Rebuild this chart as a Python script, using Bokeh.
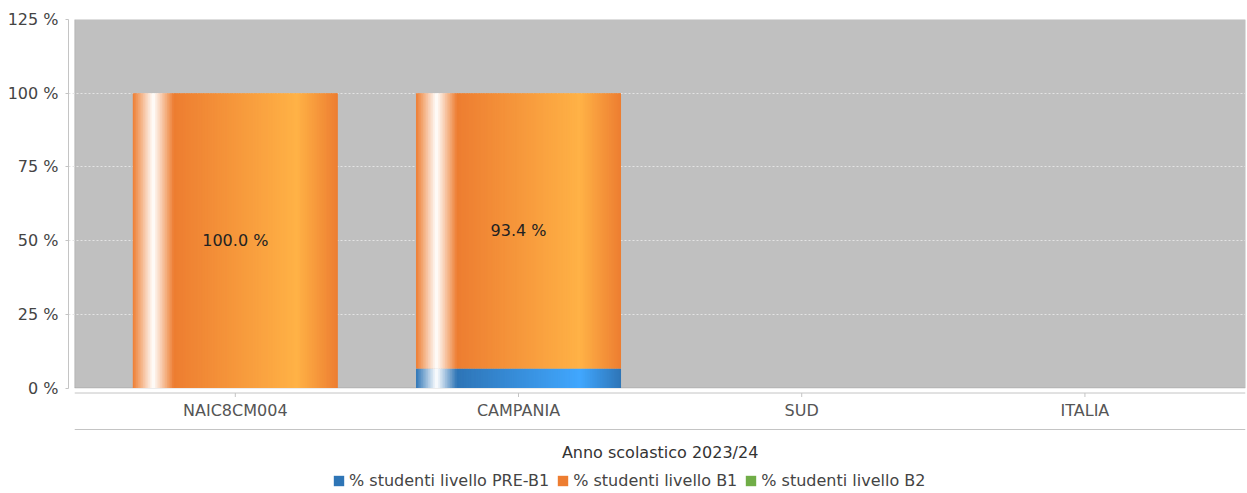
import numpy as np
from bokeh.plotting import figure
from bokeh.models import (Range1d, FixedTicker, BoxAnnotation, Legend,
                          LegendItem, ColumnDataSource)
from bokeh.core.properties import value
from bokeh.embed import file_html
from bokeh.resources import INLINE

# ---------------- data ----------------
categories = ["NAIC8CM004", "CAMPANIA", "SUD", "ITALIA"]
pre_b1 = [0.0, 6.6, None, None]
b1 = [100.0, 93.4, None, None]
b2 = [0.0, 0.0, None, None]
series_values = [pre_b1, b1, b2]
series_names = ["% studenti livello PRE-B1", "% studenti livello B1", "% studenti livello B2"]
series_colors = [(46, 117, 182), (237, 125, 49), (112, 173, 71)]
y_ticks = [0, 25, 50, 75, 100, 125]
y_tick_labels = ["0 %", "25 %", "50 %", "75 %", "100 %", "125 %"]
x_title = "Anno scolastico 2023/24"

# ---------------- layout / style ----------------
FONT = "DejaVu Sans"
AXIS_GREY = "#c4c4c4"
bar_width = 0.724
cat_pad = 0.567
axis_gap = 0.022
y_max = 125
n_strips = 120

frame_top_px = 19          # page px of the 125 % line
zero_px = 387.5            # page px of the 0 % line
frame_h = 474              # frame runs down to the bottom of the page
px_per_unit = (zero_px - frame_top_px) / y_max
y_min = -(frame_top_px + frame_h - zero_px) / px_per_unit


def y_at(offset_px):
    """data y that lies offset_px pixels below the 0 % line"""
    return -offset_px / px_per_unit


axis_line_off = 5          # category axis line
tick_len = 4
cat_label_off = 22.5
sep_line_off = 41.5
title_off = 64.5


def hexc(c):
    return "#%02x%02x%02x" % tuple(int(round(v)) for v in c)


def brighter(c):
    return tuple(min(255, int(v / 0.7)) if v >= 3 else 3 for v in c)


def gradient(base, t):
    b = np.array(base, float)
    w = np.array([255.0, 255.0, 255.0])
    l = np.array(brighter(base), float)
    if t < 0.1:
        c = b + (w - b) * (t / 0.1)
    elif t < 0.2:
        c = w + (b - w) * ((t - 0.1) / 0.1)
    elif t < 0.8:
        c = b + (l - b) * ((t - 0.2) / 0.6)
    else:
        c = l + (b - l) * ((t - 0.8) / 0.2)
    return hexc(c)


n_cat = len(categories)
x_lo, x_hi = -cat_pad, n_cat - 1 + cat_pad
p = figure(frame_width=1177, frame_height=frame_h,
           x_range=Range1d(x_lo - axis_gap, x_hi),
           y_range=Range1d(y_min, y_max),
           x_axis_location=None,
           output_backend="svg", toolbar_location=None,
           min_border_left=68, min_border_right=2, min_border_top=frame_top_px,
           min_border_bottom=0,
           background_fill_color="white", border_fill_color="white")
p.outline_line_color = None

# plot area (grey)
area = BoxAnnotation(left=x_lo, right=x_hi, bottom=0, top=y_max,
                     fill_color="#c0c0c0", fill_alpha=1.0,
                     line_color="#808080", line_width=1, level="image")
p.add_layout(area)

# grid
p.xgrid.visible = False
p.ygrid.ticker = FixedTicker(ticks=y_ticks[1:-1])
p.ygrid.grid_line_color = "#e4e4e4"
p.ygrid.grid_line_dash = "2 2"
p.ygrid.grid_line_width = 1

# stacked gradient bars
bottoms = [0.0] * n_cat
label_x, label_y, label_t = [], [], []
for s, vals in enumerate(series_values):
    data = dict(left=[], right=[], bottom=[], top=[], color=[])
    for i, v in enumerate(vals):
        if v is None or v <= 0:
            continue
        b0 = bottoms[i]
        left = i - bar_width / 2
        sw = bar_width / n_strips
        for k in range(n_strips):
            x0 = left + k * sw
            x1 = min(left + (k + 1.6) * sw, left + bar_width)
            data["left"].append(x0)
            data["right"].append(x1)
            data["bottom"].append(b0)
            data["top"].append(b0 + v)
            data["color"].append(gradient(series_colors[s], (k + 0.5) / n_strips))
        if v >= 10:
            label_x.append(i)
            label_y.append(b0 + v / 2)
            label_t.append("%.1f %%" % v)
        bottoms[i] = b0 + v
    p.quad(left="left", right="right", bottom="bottom", top="top", fill_color="color",
           line_color=None, source=ColumnDataSource(data))

p.text(x=label_x, y=label_y, text=label_t, text_font=value(FONT), text_font_size="16px",
       text_color="#222222", text_align="center", text_baseline="middle")

# ---- category axis (drawn below the plot area) ----
cat_idx = list(range(n_cat))
p.segment(x0=[x_lo], x1=[x_hi], y0=[y_at(axis_line_off)], y1=[y_at(axis_line_off)],
          line_color=AXIS_GREY, line_width=1)
p.segment(x0=cat_idx, x1=cat_idx, y0=[y_at(axis_line_off)] * n_cat,
          y1=[y_at(axis_line_off + tick_len)] * n_cat, line_color=AXIS_GREY, line_width=1)
p.text(x=cat_idx, y=[y_at(cat_label_off)] * n_cat, text=categories,
       text_font=value(FONT), text_font_size="16px", text_color="#555555",
       text_align="center", text_baseline="middle")
p.segment(x0=[x_lo], x1=[x_hi], y0=[y_at(sep_line_off)], y1=[y_at(sep_line_off)],
          line_color=AXIS_GREY, line_width=1)
p.text(x=[(x_lo + x_hi) / 2], y=[y_at(title_off)], text=[x_title],
       text_font=value(FONT), text_font_size="16px", text_color="#333333",
       text_align="center", text_baseline="middle")

# legend renderers (one non-drawn row each so the legend swatch is painted)
legend_items = []
for name, col in zip(series_names, series_colors):
    r = p.quad(left=[np.nan], right=[np.nan], bottom=[np.nan], top=[np.nan],
               fill_color=hexc(col), line_color=None)
    legend_items.append(LegendItem(label=name, renderers=[r], index=0))

# y axis
yax = p.yaxis[0]
yax.ticker = FixedTicker(ticks=y_ticks)
yax.major_label_overrides = {t: lab for t, lab in zip(y_ticks, y_tick_labels)}
yax.bounds = (0, y_max)
yax.axis_line_color = AXIS_GREY
yax.major_tick_line_color = AXIS_GREY
yax.major_tick_out = 3
yax.major_tick_in = 0
yax.minor_tick_line_color = None
yax.major_label_standoff = 7
yax.major_label_text_font = FONT
yax.major_label_text_font_size = "16px"
yax.major_label_text_color = "#444444"

# legend (screen px from the frame's bottom-left corner)
legend = Legend(items=legend_items, orientation="horizontal", location=(264, 3),
                glyph_width=13, glyph_height=13, label_standoff=4, spacing=7,
                label_height=16, padding=0, margin=0, border_line_color=None,
                background_fill_alpha=0,
                label_text_font=FONT, label_text_font_size="16px",
                label_text_color="#444444")
p.add_layout(legend, "center")

open("out.html", "w").write(file_html(p, INLINE))
